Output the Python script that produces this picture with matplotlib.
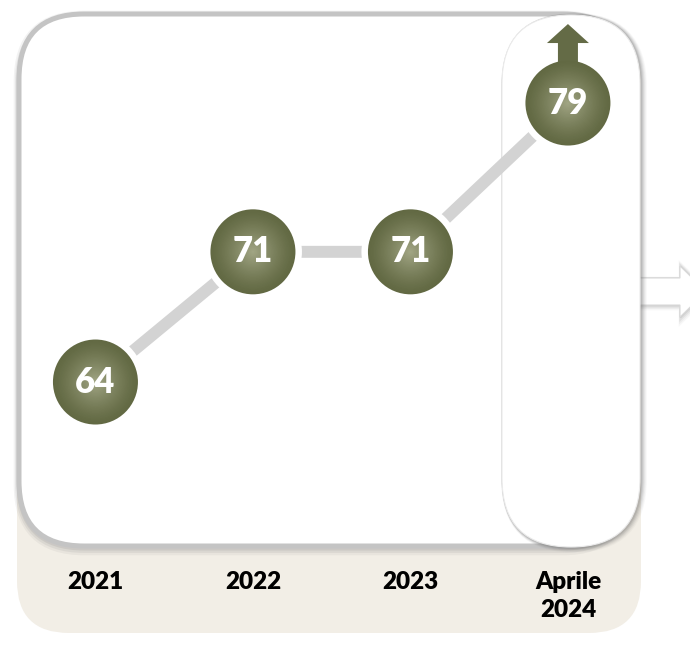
import numpy as np
import matplotlib
matplotlib.use("Agg")
import matplotlib.pyplot as plt
from matplotlib.patches import FancyBboxPatch, Polygon
from matplotlib.transforms import IdentityTransform

plt.rcParams["font.family"] = ["Lato", "DejaVu Sans"]

# data
categories = ["2021", "2022", "2023", "Aprile\n2024"]
values = [64, 71, 71, 79]
value_labels = ["64", "71", "71", "79"]

W, H = 690, 661
fig = plt.figure(figsize=(W / 100, H / 100), dpi=100)

# background shapes, drawn in pixel units
bg = fig.add_axes([0, 0, 1, 1])
bg.set_xlim(0, W)
bg.set_ylim(H, 0)
bg.axis("off")


def rbox(x0, y0, x1, y1, r, **kw):
    p = FancyBboxPatch((x0, y0), x1 - x0, y1 - y0,
                       boxstyle=f"round,pad=0,rounding_size={r}", **kw)
    bg.add_patch(p)
    return p


# beige panel
rbox(17, 30, 641, 633, 52, facecolor="#F2EEE6", edgecolor="none", zorder=1)

# white box with grey border and soft shadow
for i, a in enumerate([0.10, 0.15, 0.2]):
    rbox(19, 16 + i, 628, 548 + 2 - i, 65, facecolor="none",
         edgecolor="#909090", lw=3.6 + 2 * (2 - i), alpha=a, zorder=2)
rbox(19, 14, 628, 546, 65, facecolor="white", edgecolor="#C4C4C4",
     lw=3.6, zorder=3)

# white arrow to the right (behind the capsule)
arrow_pts = [(630, 278), (680, 278), (680, 266), (706, 291.5),
             (680, 317), (680, 305), (630, 305)]
for off, a in [(4, 0.06), (3, 0.08), (2, 0.12), (1, 0.16)]:
    sh = [(x + off * 0.5, y + off * 0.5) for x, y in arrow_pts]
    bg.add_patch(Polygon(sh, closed=True, facecolor="none",
                         edgecolor="#808080", lw=off * 1.2, alpha=a, zorder=4))
bg.add_patch(Polygon(arrow_pts, closed=True, facecolor="white",
                     edgecolor="#DADADA", lw=0.8, zorder=5))

# capsule highlighting the last point (shadow mostly on the right)
for off, a in [(6, 0.05), (5, 0.08), (4, 0.11), (3, 0.15), (2, 0.2)]:
    rbox(502 + off * 0.5, 15 + off * 0.3, 640 + off * 0.5, 547 + off * 0.3, 69,
         facecolor="none", edgecolor="#707070", lw=off * 0.9, alpha=a, zorder=6)
rbox(502, 15, 640, 547, 69, facecolor="white", edgecolor="#EBEBEB",
     lw=0.8, zorder=7)

# data layer
ax = fig.add_axes([0, 0, 1, 1])
ax.patch.set_alpha(0)
ax.axis("off")
x = np.arange(len(values))
ax.set_xlim(-0.606, 3.775)
ax.set_ylim(49.0, 84.54)

ax.plot(x, values, color="#D3D3D3", lw=8.6, solid_capstyle="butt", zorder=2)

# white gap around the markers
ax.scatter(x, values, s=(98 * 0.72) ** 2, color="white",
           edgecolors="none", zorder=3)

# up arrow above the last point (pixel offsets from the marker centre)
fig.canvas.draw()
px, py = ax.transData.transform((x[-1], values[-1]))
up = [(px - 10, py + 30), (px - 10, py + 60), (px - 21, py + 60), (px, py + 79),
      (px + 21, py + 60), (px + 10, py + 60), (px + 10, py + 30)]
ax.add_patch(Polygon(up, closed=True, facecolor="#646B46", edgecolor="none",
                     transform=IdentityTransform(), zorder=3.5))

# radial gradient markers
edge_c = np.array([0x62, 0x69, 0x43]) / 255
mid_c = np.array([0xA3, 0xA7, 0x86]) / 255
n = 30
d_full = 85 * 0.72
for i in range(n):
    t = i / n
    c = edge_c + (mid_c - edge_c) * t ** 1.3
    d = d_full * (1 - t)
    ax.scatter(x, values, s=d ** 2, color=c, edgecolors="none", zorder=4 + i * 0.01)

for xi, v, lab in zip(x, values, value_labels):
    ax.text(xi, v, lab, color="white", fontsize=25, fontweight="heavy",
            ha="center", va="center", zorder=6)

for xi, lab in zip(x, categories):
    ax.text(xi, 1 - 571 / H, lab, transform=ax.get_xaxis_transform(),
            fontsize=17.5, fontweight="heavy", color="black",
            ha="center", va="top", linespacing=1.35, zorder=6)

fig.savefig("out.png", dpi=100)
